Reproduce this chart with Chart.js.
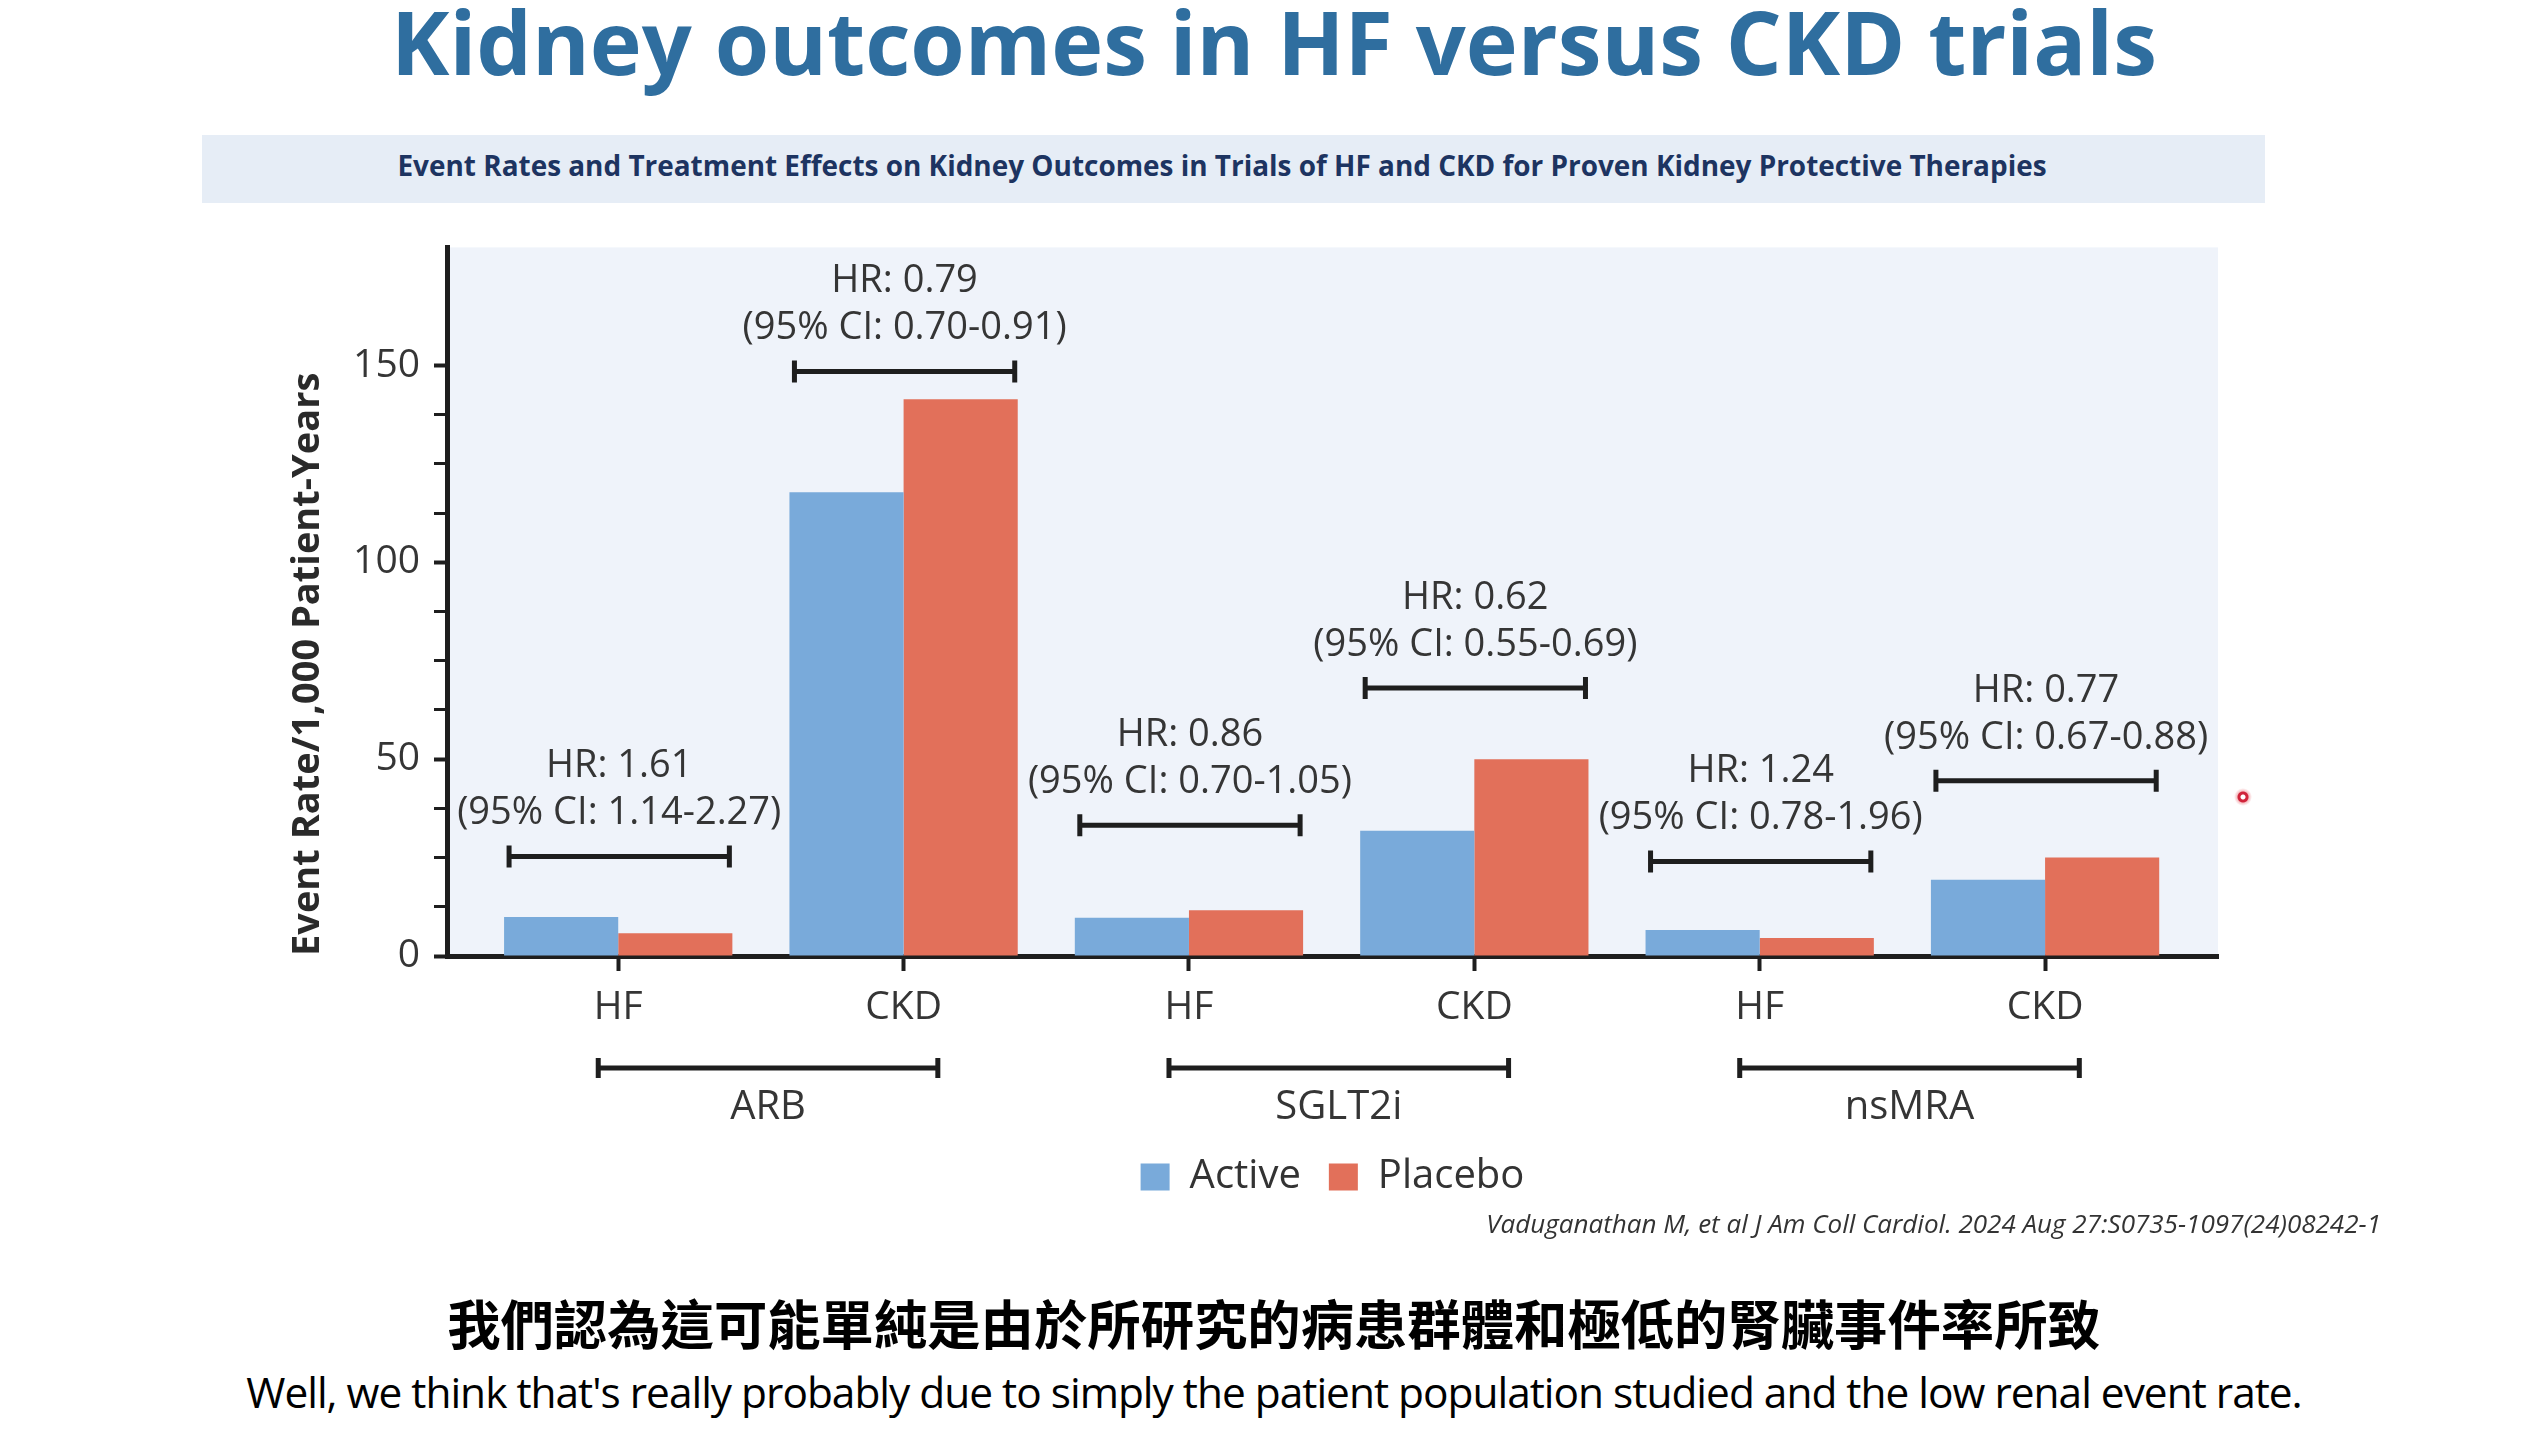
<!DOCTYPE html>
<html>
<head>
<meta charset="utf-8">
<title>Kidney outcomes in HF versus CKD trials</title>
<script src="https://cdn.jsdelivr.net/npm/chart.js@4.4.1/dist/chart.umd.min.js"></script>
<style>
  html, body { margin: 0; padding: 0; background: #fff; }
  body { width: 2548px; height: 1432px; position: relative; overflow: hidden; font-family: "Open Sans", sans-serif; }
  .row { position: absolute; left: 0; width: 2548px; display: flex; align-items: center; justify-content: center; white-space: nowrap; }
  #title { top: -5px; height: 92px; }
  #title span { font-weight: 700; font-size: 80px; color: #2f6e9f; }
  #band { position: absolute; left: 202px; top: 135px; width: 2063px; height: 68px; background: #e6edf6; }
  #bandText { top: 135px; height: 60px; left: 202px; width: 2040px; }
  #bandText span { font-weight: 700; font-size: 25px; color: #1d3461; }
  #chartBox { position: absolute; left: 250px; top: 210px; width: 2160px; height: 997px; }
  #cite { position: absolute; right: 167px; top: 1203px; height: 40px; display: flex; align-items: center; white-space: nowrap; }
  #cite span { font-style: italic; font-size: 23px; color: #333; }
  #capZh { top: 1291px; height: 60px; }
  #capZh span { font-family: "Noto Sans CJK TC", sans-serif; font-weight: 700; font-size: 52px; color: #000; }
  #capEn { top: 1366px; height: 50px; }
  #capEn span { font-size: 40px; color: #000; letter-spacing: -1px; }
  #dot { position: absolute; left: 2234px; top: 788px; width: 18px; height: 18px; border-radius: 50%;
         background: radial-gradient(circle, #fff 0 2px, #d0243a 3px 5px, rgba(230,80,90,0.35) 6px, rgba(230,80,90,0) 9px); }
</style>
</head>
<body>
<div class="row" id="title"><span id="titleText">Kidney outcomes in HF versus CKD trials</span></div>
<div id="band"></div>
<div class="row" id="bandText"><span id="bandSpan">Event Rates and Treatment Effects on Kidney Outcomes in Trials of HF and CKD for Proven Kidney Protective Therapies</span></div>
<div id="chartBox"><canvas id="kidneyChart"></canvas></div>
<div id="dot"></div>
<div id="cite"><span id="citeText">Vaduganathan M, et al J Am Coll Cardiol. 2024 Aug 27:S0735-1097(24)08242-1</span></div>
<div class="row" id="capZh"><span id="zhText">我們認為這可能單純是由於所研究的病患群體和極低的腎臟事件率所致</span></div>
<div class="row" id="capEn"><span id="enText">Well, we think that's really probably due to simply the patient population studied and the low renal event rate.</span></div>

<script>
// categories and groups
const categories = ['HF', 'CKD', 'HF', 'CKD', 'HF', 'CKD'];
const drugGroups = ['ARB', 'SGLT2i', 'nsMRA'];

// event rate per 1,000 patient-years
const activeRates = [9.9, 117.8, 9.7, 31.8, 6.6, 19.4];
const placeboRates = [5.8, 141.4, 11.6, 50.0, 4.6, 25.0];

// hazard ratio annotations
const hrLabels = ['HR: 1.61', 'HR: 0.79', 'HR: 0.86', 'HR: 0.62', 'HR: 1.24', 'HR: 0.77'];
const ciLabels = ['(95% CI: 1.14-2.27)', '(95% CI: 0.70-0.91)', '(95% CI: 0.70-1.05)',
                  '(95% CI: 0.55-0.69)', '(95% CI: 0.78-1.96)', '(95% CI: 0.67-0.88)'];
const bracketLevels = [25.3, 148.5, 33.2, 68.1, 24.0, 44.5];

// y axis ticks
const yTicks = [0, 12.5, 25, 37.5, 50, 62.5, 75, 87.5, 100, 112.5, 125, 137.5, 150];
const yLabelled = [0, 50, 100, 150];

function fitText(id, target) {
    const el = document.getElementById(id);
    const w = el.getBoundingClientRect().width;
    const size = parseFloat(getComputedStyle(el).fontSize);
    el.style.fontSize = (size * target / w) + 'px';
}

document.addEventListener('DOMContentLoaded', () => {
    fitText('titleText', 1766);
    fitText('bandSpan', 1650);
    fitText('citeText', 895);
    fitText('zhText', 1654);
    fitText('enText', 2049);
    initChart();
});

const INK = '#1e1e1e';
const TEXT = '#353535';
const FONT = '"Open Sans", sans-serif';

function drawBracket(ctx, left, right, y, cap) {
    ctx.beginPath();
    ctx.moveTo(left, y);
    ctx.lineTo(right, y);
    ctx.moveTo(left, y - cap / 2);
    ctx.lineTo(left, y + cap / 2);
    ctx.moveTo(right, y - cap / 2);
    ctx.lineTo(right, y + cap / 2);
    ctx.stroke();
}

const plotBackground = {
    id: 'plotBackground',
    beforeDraw(chart) {
        const { ctx, chartArea: a } = chart;
        ctx.save();
        ctx.fillStyle = '#eff3fa';
        ctx.fillRect(a.left, a.top, a.right - a.left, a.bottom - a.top);
        ctx.restore();
    }
};

// keep the legend centred under the plot rather than the whole canvas
const legendUnderPlot = {
    id: 'legendUnderPlot',
    afterLayout(chart) {
        const l = chart.legend;
        const a = chart.chartArea;
        const shift = (a.left + a.right) / 2 - (l.left + l.right) / 2;
        l.left += shift;
        l.right += shift;
    }
};

const hrAnnotations = {
    id: 'hrAnnotations',
    afterDraw(chart) {
        const { ctx, chartArea, scales: { x, y } } = chart;
        const activeMeta = chart.getDatasetMeta(0);
        const placeboMeta = chart.getDatasetMeta(1);
        ctx.save();
        ctx.strokeStyle = INK;
        ctx.lineWidth = 5;
        ctx.fillStyle = TEXT;
        ctx.textAlign = 'center';
        ctx.textBaseline = 'middle';
        ctx.font = '38px ' + FONT;

        categories.forEach((c, i) => {
            const a = activeMeta.data[i];
            const p = placeboMeta.data[i];
            const left = a.x - a.width / 2 + 5;
            const right = p.x + p.width / 2 - 3;
            const yy = y.getPixelForValue(bracketLevels[i]);
            drawBracket(ctx, left, right, yy, 22);
            const mid = (left + right) / 2;
            ctx.fillText(hrLabels[i], mid, yy - 90);
            ctx.fillText(ciLabels[i], mid, yy - 43);
        });

        // drug class brackets under the categories
        ctx.font = '40px ' + FONT;
        const gy = chartArea.bottom + 112;
        drugGroups.forEach((g, k) => {
            const left = x.getPixelForValue(2 * k - 0.07);
            const right = x.getPixelForValue(2 * k + 1.12);
            drawBracket(ctx, left, right, gy, 20);
            ctx.fillText(g, (left + right) / 2, gy + 40);
        });
        ctx.restore();
    }
};

function initChart() {
    const ctx = document.getElementById('kidneyChart').getContext('2d');
    const chart = new Chart(ctx, {
        type: 'bar',
        data: {
            datasets: [{
                label: 'Active',
                data: activeRates.map((v, i) => ({ x: i, y: v })),
                backgroundColor: '#79aada',
                borderWidth: 0
            }, {
                label: 'Placebo',
                data: placeboRates.map((v, i) => ({ x: i, y: v })),
                backgroundColor: '#e2705a',
                borderWidth: 0
            }]
        },
        options: {
            responsive: true,
            maintainAspectRatio: false,
            animation: false,
            categoryPercentage: 0.8,
            barPercentage: 1.0,
            layout: { padding: { top: 34, right: 192, left: 0, bottom: 0 } },
            plugins: {
                legend: {
                    position: 'bottom',
                    labels: {
                        boxWidth: 29,
                        boxHeight: 27,
                        padding: 28,
                        color: '#333',
                        font: { family: FONT, size: 40 }
                    }
                },
                tooltip: { enabled: false }
            },
            scales: {
                x: {
                    type: 'linear',
                    min: -0.6,
                    max: 5.606,
                    offset: false,
                    z: 1,
                    afterBuildTicks: (scale) => {
                        scale.ticks = categories.map((c, i) => ({ value: i }));
                    },
                    afterFit: (scale) => { scale.height = 173; },
                    ticks: {
                        autoSkip: false,
                        maxRotation: 0,
                        padding: 13,
                        color: TEXT,
                        font: { family: FONT, size: 39 },
                        callback: (value, index) => categories[index]
                    },
                    grid: {
                        display: true,
                        offset: false,
                        drawOnChartArea: false,
                        drawTicks: true,
                        tickLength: 15,
                        tickColor: INK,
                        tickWidth: 4
                    },
                    border: { display: true, color: INK, width: 5 }
                },
                y: {
                    min: 0,
                    max: 180,
                    z: 1,
                    afterBuildTicks: (scale) => {
                        scale.ticks = yTicks.map(v => ({ value: v }));
                    },
                    afterFit: (scale) => { scale.width = 197; },
                    ticks: {
                        padding: 14,
                        color: TEXT,
                        font: { family: FONT, size: 39 },
                        callback: (value) => yLabelled.includes(value) ? value : ''
                    },
                    grid: {
                        display: true,
                        drawOnChartArea: false,
                        drawTicks: true,
                        tickLength: 13,
                        tickColor: INK,
                        tickWidth: (c) => (c.tick && c.tick.value % 50 === 0) ? 4 : 3
                    },
                    border: { display: true, color: INK, width: 5 },
                    title: {
                        display: true,
                        text: 'Event Rate/1,000 Patient-Years',
                        align: 'start',
                        color: '#2a2a2a',
                        font: { family: FONT, size: 38, weight: '700' },
                        padding: { top: 35, bottom: 0 }
                    }
                }
            }
        },
        plugins: [plotBackground, legendUnderPlot, hrAnnotations]
    });
    window.kidneyChart = chart;
}
</script>
</body>
</html>
